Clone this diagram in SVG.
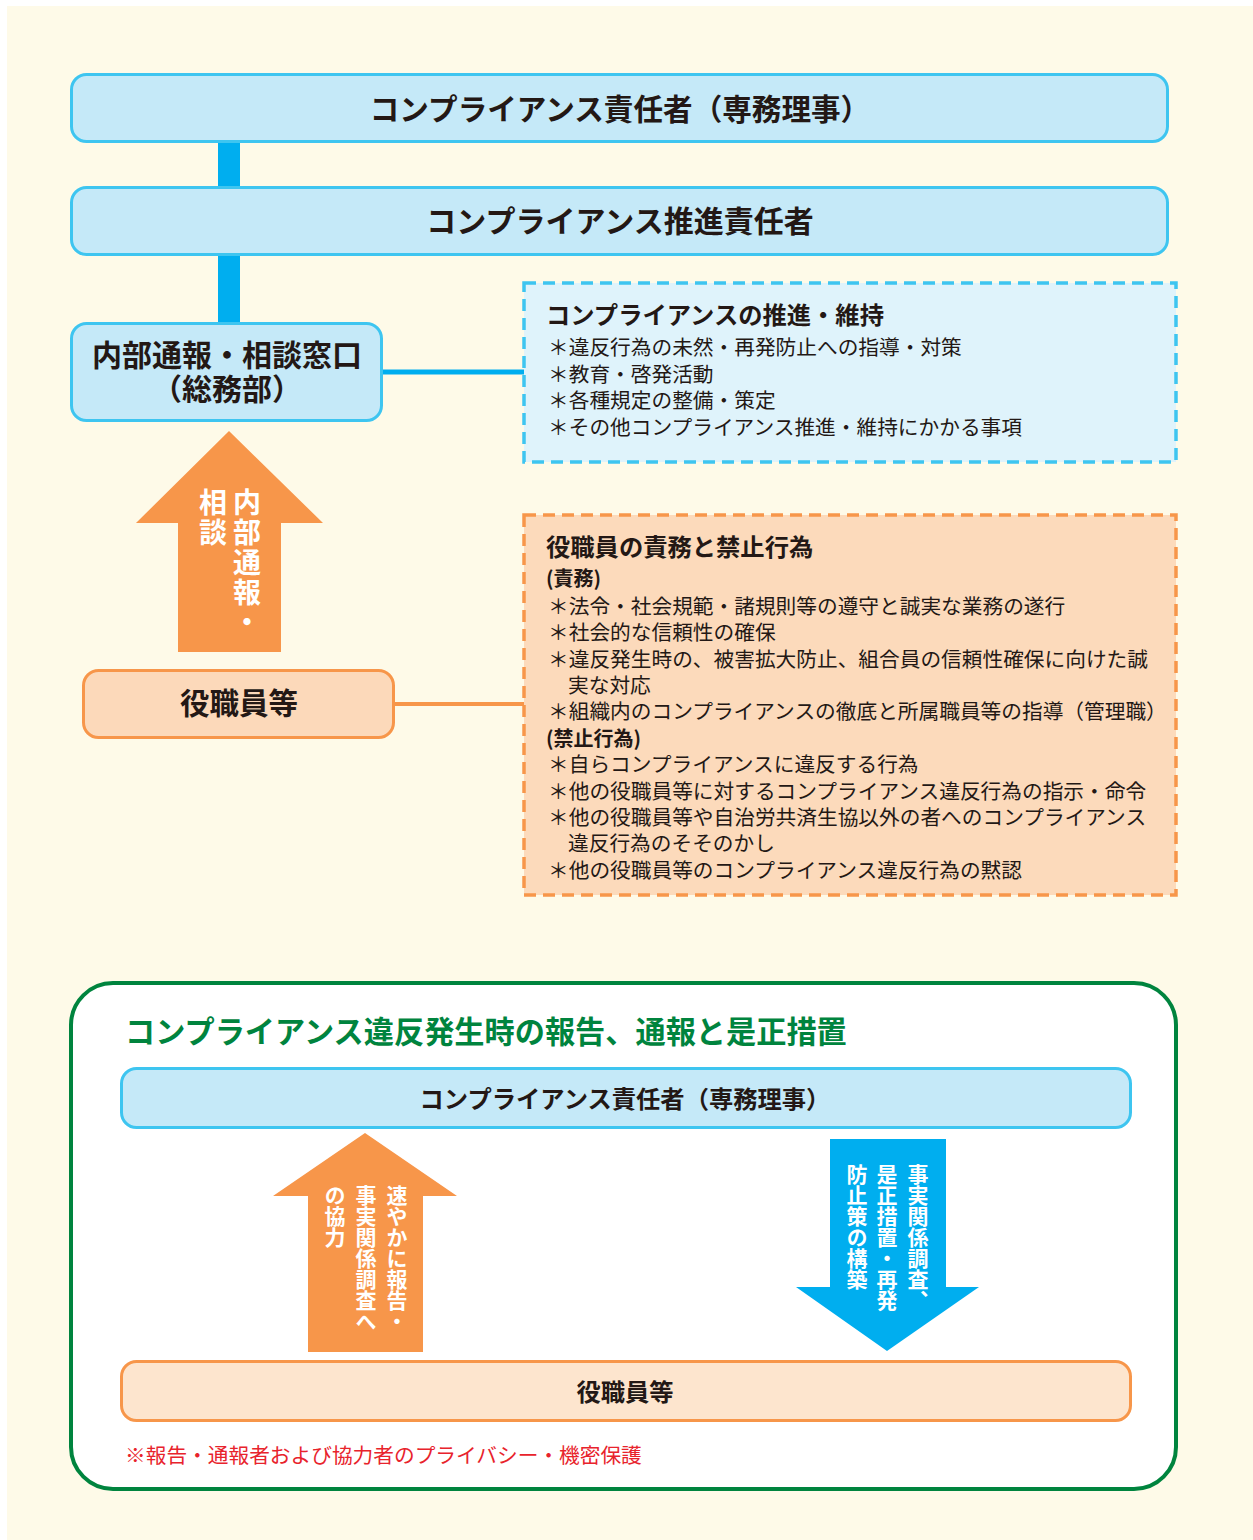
<svg xmlns="http://www.w3.org/2000/svg" width="1253" height="1540" viewBox="0 0 1253 1540">
<style>
.t{font-family:"Noto Sans CJK JP","Noto Sans",sans-serif;fill:#231815}
.b{font-weight:700}
.bx{fill:#C5E9F8;stroke:#3EC5F0;stroke-width:3}
.ob{fill:#FCD9BA;stroke:#F7964A;stroke-width:3}
.it{font-size:20.7px}
.vt{font-family:"Noto Sans CJK JP",sans-serif;font-weight:700;fill:#fff;writing-mode:vertical-rl}
</style>
<rect x="0" y="0" width="1253" height="1540" fill="#ffffff"/>
<rect x="7" y="6" width="1246" height="1534" fill="#FEFAE8"/>
<g id="connectors">
<rect x="218" y="141" width="22" height="47" fill="#00AEEF"/>
<rect x="218" y="254" width="22" height="70" fill="#00AEEF"/>
<line x1="382" y1="372" x2="524" y2="372" stroke="#00AEEF" stroke-width="5"/>
<line x1="394" y1="704" x2="524" y2="704" stroke="#F7964A" stroke-width="4"/>
</g>
<g id="n1"><rect class="bx" x="71.5" y="74.5" width="1096" height="67" rx="15"/>
<text class="t b" x="620" y="120" font-size="29.6" text-anchor="middle">コンプライアンス責任者（専務理事）</text></g>
<g id="n2"><rect class="bx" x="71.5" y="187.5" width="1096" height="67" rx="15"/>
<text class="t b" x="620" y="232" font-size="30" text-anchor="middle">コンプライアンス推進責任者</text></g>
<g id="n3"><rect class="bx" x="71.5" y="323.5" width="310" height="97" rx="15"/>
<text class="t b" x="227" y="366" font-size="30" text-anchor="middle">内部通報・相談窓口</text>
<text class="t b" x="227" y="400" font-size="30" text-anchor="middle">（総務部）</text></g>
<g id="n4"><rect x="524" y="283" width="652" height="179" fill="#DFF3FB" stroke="#3EC5F0" stroke-width="3.5" stroke-dasharray="12 7"/>
<text class="t b" x="546" y="324" font-size="24.3">コンプライアンスの推進・維持</text>
<text class="t it" x="548" y="355">＊違反行為の未然・再発防止への指導・対策</text>
<text class="t it" x="548" y="382">＊教育・啓発活動</text>
<text class="t it" x="548" y="408">＊各種規定の整備・策定</text>
<text class="t it" x="548" y="435">＊その他コンプライアンス推進・維持にかかる事項</text></g>
<g id="a1"><polygon points="229,431 323,523 281,523 281,652 178,652 178,523 136,523" fill="#F7964A"/>
<text class="vt" x="247" y="488" font-size="28" letter-spacing="2">内部通報・</text>
<text class="vt" x="213" y="488" font-size="28" letter-spacing="2">相談</text></g>
<g id="n5"><rect class="ob" x="83.5" y="670.5" width="310" height="67" rx="15"/>
<text class="t b" x="239" y="714" font-size="29.5" text-anchor="middle">役職員等</text></g>
<g id="n6"><rect x="524" y="515" width="652" height="380" fill="#FCDABB" stroke="#F7964A" stroke-width="3.5" stroke-dasharray="12 7"/>
<text class="t b" x="546" y="556" font-size="24.3">役職員の責務と禁止行為</text>
<text class="t b" x="546" y="586" font-size="20">(責務)</text>
<text class="t it" x="548" y="614">＊法令・社会規範・諸規則等の遵守と誠実な業務の遂行</text>
<text class="t it" x="548" y="640">＊社会的な信頼性の確保</text>
<text class="t it" x="548" y="667">＊違反発生時の、被害拡大防止、組合員の信頼性確保に向けた誠</text>
<text class="t it" x="568" y="693">実な対応</text>
<text class="t it" x="548" y="719">＊組織内のコンプライアンスの徹底と所属職員等の指導（管理職）</text>
<text class="t b" x="546" y="746" font-size="20">(禁止行為)</text>
<text class="t it" x="548" y="772">＊自らコンプライアンスに違反する行為</text>
<text class="t it" x="548" y="799">＊他の役職員等に対するコンプライアンス違反行為の指示・命令</text>
<text class="t it" x="548" y="825">＊他の役職員等や自治労共済生協以外の者へのコンプライアンス</text>
<text class="t it" x="568" y="851">違反行為のそそのかし</text>
<text class="t it" x="548" y="878">＊他の役職員等のコンプライアンス違反行為の黙認</text></g>
<g id="n7"><rect x="71" y="983" width="1105" height="506" rx="42" fill="#ffffff" stroke="#00843E" stroke-width="4"/>
<text class="t b" x="125" y="1043" font-size="30.2" style="fill:#00843E">コンプライアンス違反発生時の報告、通報と是正措置</text></g>
<g id="n8"><rect class="bx" x="121.5" y="1068.5" width="1009" height="59" rx="15"/>
<text class="t b" x="625" y="1108" font-size="24.3" text-anchor="middle">コンプライアンス責任者（専務理事）</text></g>
<g id="a2"><polygon points="365,1133 457,1196 423,1196 423,1352 308,1352 308,1196 273,1196" fill="#F7964A"/>
<text class="vt" x="397" y="1185" font-size="21">速やかに報告・</text>
<text class="vt" x="366" y="1185" font-size="21">事実関係調査へ</text>
<text class="vt" x="335" y="1185" font-size="21">の協力</text></g>
<g id="a3"><polygon points="830,1139 946,1139 946,1287 979,1287 887,1351 796,1287 830,1287" fill="#00AEEF"/>
<text class="vt" x="918" y="1164" font-size="21">事実関係調査、</text>
<text class="vt" x="887" y="1164" font-size="21">是正措置・再発</text>
<text class="vt" x="857" y="1164" font-size="21">防止策の構築</text></g>
<g id="n9"><rect x="121.5" y="1361.5" width="1009" height="59" rx="15" fill="#FDE5CE" stroke="#F7964A" stroke-width="3"/>
<text class="t b" x="625" y="1401" font-size="24.3" text-anchor="middle">役職員等</text></g>
<text x="125" y="1463" font-size="20.7" style="font-family:'Noto Sans CJK JP',sans-serif;fill:#E8232C">※報告・通報者および協力者のプライバシー・機密保護</text>
</svg>
